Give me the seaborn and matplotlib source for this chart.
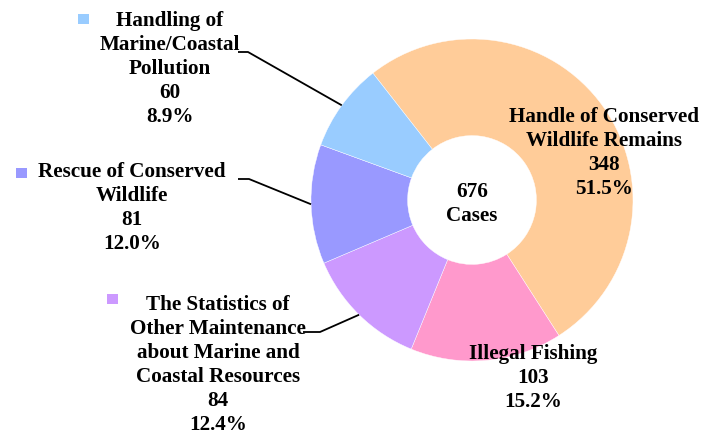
import matplotlib
matplotlib.use("Agg")
import matplotlib.pyplot as plt
import seaborn as sns
import numpy as np
from matplotlib.patches import Rectangle

# ---- data ----
categories = [
    "Handle of Conserved\nWildlife Remains",
    "Illegal Fishing",
    "The Statistics of\nOther Maintenance\nabout Marine and\nCoastal Resources",
    "Rescue of Conserved\nWildlife",
    "Handling of\nMarine/Coastal\nPollution",
]
counts = [348, 103, 84, 81, 60]
colors = ["#FFCC99", "#FF99CC", "#CC99FF", "#9999FF", "#99CCFF"]
center_unit = "Cases"

# ---- layout (pixel coords, y from top) ----
W, H = 702, 438
CX, CY, R = 472, 200, 161
label_pos = [(604, 153), (533, 378), (218, 365), (132, 208), (170, 69)]
# leader: (start x, y, elbow x) ; None -> no leader
leaders = [None, None, (303, 332, 320), (238, 179, 249), (238, 52, 248)]
# legend key squares (left, top)
keys = [None, None, (107, 294), (16, 168), (78, 14)]

sns.set_theme(style="white")
plt.rcParams['font.family'] = ['Liberation Serif', 'DejaVu Serif']

fig = plt.figure(figsize=(W / 100, H / 100), dpi=100)
ax = fig.add_axes([0, 0, 1, 1])

wedges, _ = ax.pie(
    counts, colors=colors, startangle=128, counterclock=False,
    radius=R, center=(CX, H - CY),
    wedgeprops=dict(width=R * 0.6, edgecolor="white", linewidth=0.3),
)
ax.set_xlim(0, W)
ax.set_ylim(0, H)
ax.set_aspect("equal")
ax.axis("off")

total = sum(counts)
fs = 15.2
ls = 1.27
for i, (cat, c) in enumerate(zip(categories, counts)):
    pct = 100.0 * c / total
    txt = f"{cat}\n{c}\n{pct:.1f}%"
    x, y = label_pos[i]
    ax.text(x, H - y, txt, ha="center", va="center", fontsize=fs,
            fontweight="bold", color="black", linespacing=ls)
    if leaders[i] is not None:
        sx, sy, ex = leaders[i]
        w = wedges[i]
        mid = np.deg2rad((w.theta1 + w.theta2) / 2)
        px = CX + R * np.cos(mid)
        py = (H - CY) + R * np.sin(mid)
        ax.plot([sx, ex, px], [H - sy, H - sy, py], color="black", lw=1.3,
                solid_capstyle="butt")
    if keys[i] is not None:
        kx, ky = keys[i]
        ax.add_patch(Rectangle((kx, H - ky - 10), 11, 10, color=colors[i], lw=0))

ax.text(CX, H - 204, f"{total}\n{center_unit}", ha="center", va="center",
        fontsize=fs, fontweight="bold", color="black", linespacing=ls)

fig.savefig("out.png", dpi=100)
